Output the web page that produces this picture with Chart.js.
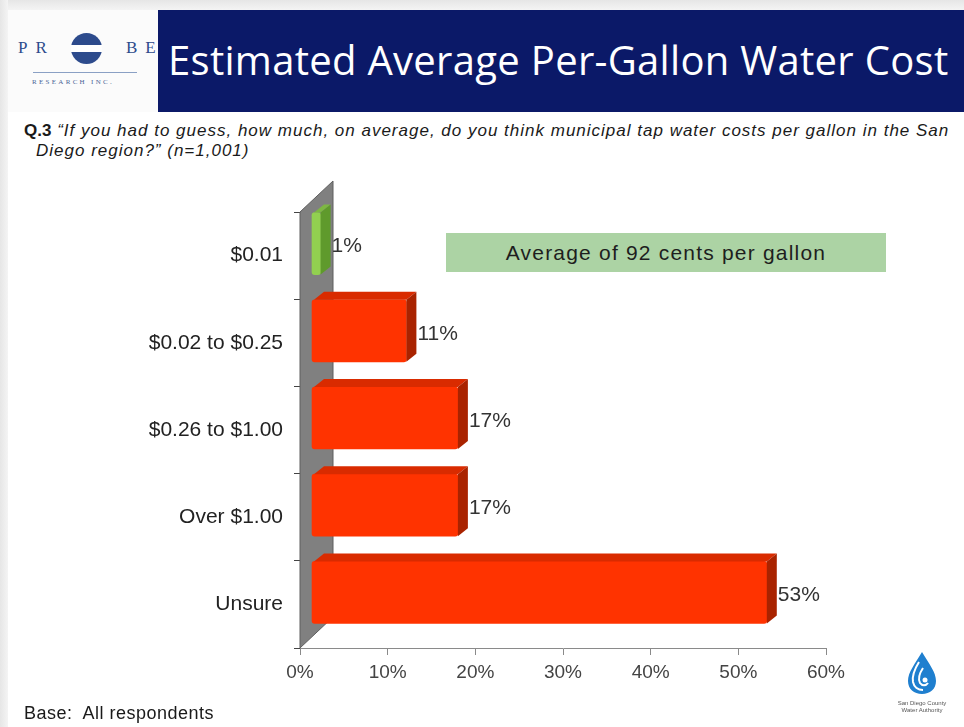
<!DOCTYPE html>
<html>
<head>
<meta charset="utf-8">
<script src="https://cdn.jsdelivr.net/npm/chart.js@4.4.1/dist/chart.umd.min.js"></script>
<style>
  body { margin: 0; width: 964px; height: 727px; overflow: hidden; background: #fff; font-family: "Liberation Sans", Arial, sans-serif; }
  #page { position: relative; width: 964px; height: 727px; }
  .frameL { position: absolute; left: 0; top: 0; width: 8px; height: 727px; background: linear-gradient(to right, #e6e6e6, #f4f4f4); }
  .frameT { position: absolute; left: 0; top: 0; width: 964px; height: 10px; background: linear-gradient(to bottom, #e6e6e6, #f4f4f4); }
  #header { position: absolute; left: 158px; top: 10px; width: 806px; height: 102px; background: #0b1968; }
  #title { position: absolute; left: 10px; top: 30px; color: #fff; font-family: "Open Sans", sans-serif; font-size: 40px; letter-spacing: 0.3px; white-space: nowrap; line-height: 1; }
  #logo { position: absolute; left: 8px; top: 10px; width: 150px; height: 102px; background: #fbfbfb; }
  .lg { position: absolute; font-family: "Liberation Serif", serif; color: #2d4b8c; font-size: 17px; letter-spacing: 8px; top: 28px; }
  #ball { position: absolute; left: 63px; top: 23px; width: 31px; height: 31px; border-radius: 50%;
    background: linear-gradient(to bottom, #2d4b8c 0%, #2d4b8c 38%, #fff 40%, #fff 60%, #2d4b8c 62%, #2d4b8c 100%); }
  #rule { position: absolute; left: 25px; top: 62px; width: 104px; height: 1px; background: #8aa0c4; }
  #inc { position: absolute; left: 24px; top: 68px; font-family: "Liberation Serif", serif; font-size: 7px; letter-spacing: 2.3px; color: #4a6496; }
  #question { position: absolute; left: 24px; top: 121px; font-size: 17px; color: #1a1a1a; white-space: nowrap; line-height: 20px; letter-spacing: 1px; }
  #question b { font-style: normal; letter-spacing: 0; }
  #chartBox { position: absolute; left: 0; top: 0; width: 964px; height: 727px; }
  #avg { position: absolute; left: 446px; top: 233px; width: 440px; height: 39px; background: #acd3a4; color: #1e1e1e;
    font-size: 21px; letter-spacing: 1.2px; line-height: 39px; text-align: center; }
  #base { position: absolute; left: 24px; top: 703px; font-size: 18px; letter-spacing: 0.5px; color: #1a1a1a; }
  #sdcwa { position: absolute; left: 884px; top: 650px; width: 76px; text-align: center; }
  #sdcwa div { font-size: 6px; line-height: 7px; color: #555; }
</style>
</head>
<body>
<div id="page">
  <div class="frameT"></div>
  <div class="frameL"></div>
  <div id="logo">
    <div class="lg" style="left:10px">PR</div>
    <div id="ball"></div>
    <div class="lg" style="left:118px">BE</div>
    <div id="rule"></div>
    <div id="inc">RESEARCH INC.</div>
  </div>
  <div id="header"><div id="title">Estimated Average Per-Gallon Water Cost</div></div>
  <div id="question"><b>Q.3</b> <i>“If you had to guess, how much, on average, do you think municipal tap water costs per gallon in the San</i><br><i style="padding-left:12px">Diego region?” (n=1,001)</i></div>
  <div id="chartBox"><canvas id="myChart"></canvas></div>
  <div id="avg">Average of 92 cents per gallon</div>
  <div id="base">Base:&nbsp; All respondents</div>
  <div id="sdcwa">
    <svg width="34" height="46" viewBox="0 0 34 46">
      <path d="M17 2 C10 14 3 22 3 31 C3 39 9 44 17 44 C25 44 31 39 31 31 C31 22 24 14 17 2 Z" fill="#1f7fcf"/>
      <path d="M14 12 C9 20 7 26 8 32 C9 37 13 40 18 40" fill="none" stroke="#fff" stroke-width="2"/>
      <path d="M18 18 C14 24 13 29 15 33 C17 36 21 36 23 33" fill="none" stroke="#fff" stroke-width="2"/>
      <circle cx="20" cy="30" r="2.5" fill="#fff"/>
    </svg>
    <div>San Diego County<br>Water Authority</div>
  </div>
</div>

<script>
const categorias = ["$0.01", "$0.02 to $0.25", "$0.26 to $1.00", "Over $1.00", "Unsure"];
const porcentajes = [1, 11, 17, 17, 53];
const colores = ["#92d050", "#ff3300", "#ff3300", "#ff3300", "#ff3300"];
const ticksX = [0, 10, 20, 30, 40, 50, 60];

// 3D look: wall on the left, bar depth and value labels
const efecto3d = {
  id: "efecto3d",
  beforeDatasetsDraw(chart) {
    const ctx = chart.ctx;
    const a = chart.chartArea;
    ctx.save();
    ctx.beginPath();
    ctx.moveTo(a.left, a.top);
    ctx.lineTo(a.left + 33, a.top - 31);
    ctx.lineTo(a.left + 33, a.bottom - 31);
    ctx.lineTo(a.left, a.bottom);
    ctx.closePath();
    ctx.fillStyle = "#808080";
    ctx.fill();
    ctx.strokeStyle = "#5e5e5e";
    ctx.lineWidth = 1;
    ctx.stroke();
    ctx.restore();
    // bars sit on the front plane, a little higher than the back
    ctx.save();
    ctx.translate(0, -12);
  },
  afterDatasetsDraw(chart) {
    const ctx = chart.ctx;
    const meta = chart.getDatasetMeta(0);
    const dx = 10, dy = 8;
    meta.data.forEach((bar, i) => {
      const p = bar.getProps(["x", "y", "base", "height"], true);
      const top = p.y - p.height / 2;
      const bot = p.y + p.height / 2;
      const verde = i === 0;
      ctx.fillStyle = verde ? "#7db743" : "#d92b00";
      ctx.beginPath();
      ctx.moveTo(p.base + 2, top);
      ctx.lineTo(p.base + 2 + dx, top - dy);
      ctx.lineTo(p.x + dx, top - dy);
      ctx.lineTo(p.x, top);
      ctx.closePath();
      ctx.fill();
      ctx.fillStyle = verde ? "#5f9a2c" : "#a92300";
      ctx.beginPath();
      ctx.moveTo(p.x, top);
      ctx.lineTo(p.x + dx, top - dy);
      ctx.lineTo(p.x + dx, bot - dy);
      ctx.lineTo(p.x, bot);
      ctx.closePath();
      ctx.fill();

      ctx.fillStyle = "#333";
      ctx.font = "21px 'Liberation Sans', Arial, sans-serif";
      ctx.textAlign = "left";
      ctx.textBaseline = "middle";
      ctx.fillText(porcentajes[i] + "%", p.x + dx + 1, p.y + 3);
    });
    ctx.restore();
  }
};

Chart.defaults.font.family = "'Liberation Sans', Arial, sans-serif";

const config = {
  type: "bar",
  data: {
    labels: categorias,
    datasets: [
      {
        label: "Porcentaje",
        data: porcentajes,
        backgroundColor: colores,
        borderWidth: 0,
        borderRadius: 3,
        borderSkipped: false,
        barThickness: 62,
        xAxisID: "frente",
        yAxisID: "y",
      },
    ],
  },
  options: {
    indexAxis: "y",
    responsive: true,
    maintainAspectRatio: false,
    animation: false,
    layout: { padding: { top: 212, right: 138, left: 0, bottom: 0 } },
    plugins: { legend: { display: false }, tooltip: { enabled: false } },
    scales: {
      x: {
        type: "linear",
        position: "bottom",
        min: 0,
        max: 60,
        afterBuildTicks: s => { s.ticks = ticksX.map(v => ({ value: v })); },
        afterFit: s => { s.height = 79; },
        ticks: { callback: v => v + "%", color: "#444", font: { size: 19 }, padding: 6, maxRotation: 0 },
        grid: { drawOnChartArea: false, tickLength: 7, color: "#8a8a8a" },
        border: { color: "#8a8a8a" },
      },
      frente: {
        type: "linear",
        position: "bottom",
        display: false,
        min: -1.4,
        max: 59.9,
      },
      y: {
        type: "category",
        afterFit: s => { s.width = 300; },
        ticks: { color: "#222", font: { size: 21 }, padding: 11 },
        grid: { drawOnChartArea: false, tickLength: 6, color: "#444", offset: true },
        border: { display: false },
      },
    },
  },
  plugins: [efecto3d],
};

const myChart = document.getElementById("myChart");
myChart.chart = new Chart(myChart, config);
</script>
</body>
</html>
